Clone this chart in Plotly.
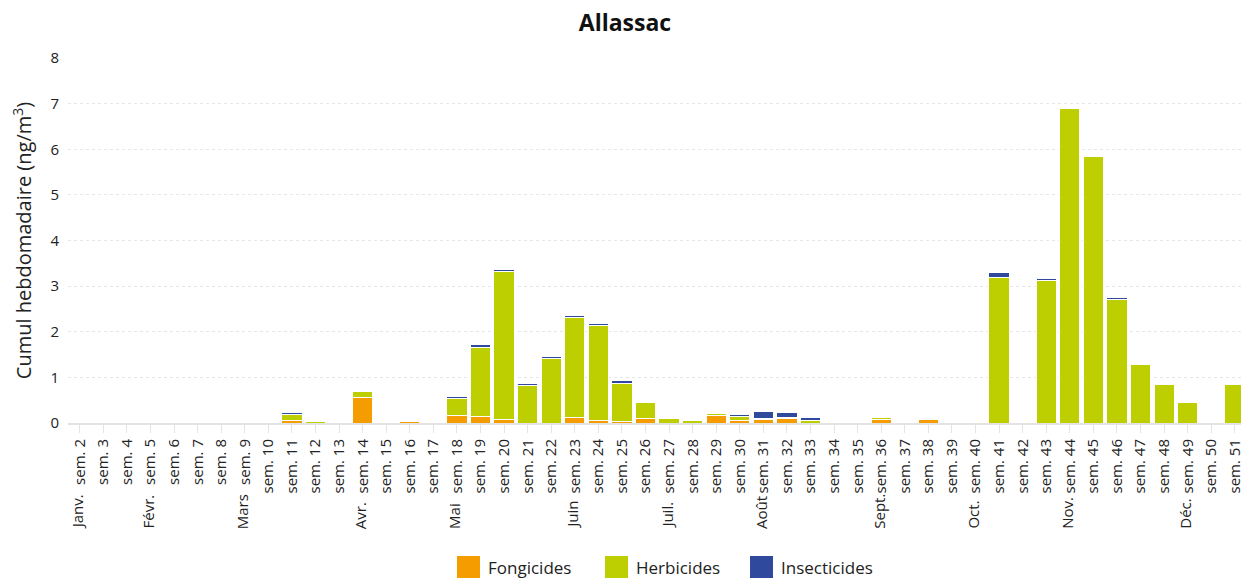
import plotly.graph_objects as go

weeks = [f"sem. {i}" for i in range(2, 52)]

# values per week (sem. 2 .. sem. 51)
fongicides = {11: 0.06, 14: 0.56, 16: 0.03, 18: 0.17, 19: 0.15, 20: 0.08, 23: 0.12, 24: 0.06,
              25: 0.04, 26: 0.10, 29: 0.16, 30: 0.06, 31: 0.08, 32: 0.09, 36: 0.07, 38: 0.07}
herbicides = {11: 0.12, 12: 0.03, 14: 0.13, 18: 0.36, 19: 1.51, 20: 3.24, 21: 0.83, 22: 1.41,
              23: 2.19, 24: 2.08, 25: 0.83, 26: 0.34, 27: 0.10, 28: 0.06, 29: 0.04, 30: 0.09,
              31: 0.02, 32: 0.02, 33: 0.06, 36: 0.05, 38: 0.03, 41: 3.19, 43: 3.12, 44: 6.89,
              45: 5.84, 46: 2.71, 47: 1.28, 48: 0.85, 49: 0.45, 51: 0.84}
insecticides = {11: 0.04, 12: 0.03, 14: 0.03, 18: 0.05, 19: 0.05, 20: 0.05, 21: 0.04, 22: 0.04,
                23: 0.04, 24: 0.05, 25: 0.06, 26: 0.03, 27: 0.02, 28: 0.02, 29: 0.04, 30: 0.04,
                31: 0.15, 32: 0.13, 33: 0.05, 36: 0.03, 38: 0.02, 41: 0.10, 43: 0.04, 44: 0.03,
                45: 0.03, 46: 0.03, 47: 0.02, 48: 0.02, 49: 0.02, 51: 0.02}

month_labels = ["Janv.", "Févr.", "Mars", "Avr.", "Mai", "Juin", "Juil.", "Août",
                "Sept.", "Oct.", "Nov.", "Déc."]
month_weeks = ["sem. 2", "sem. 5", "sem. 9", "sem. 14", "sem. 18", "sem. 23", "sem. 27",
               "sem. 31", "sem. 36", "sem. 40", "sem. 44", "sem. 49"]

series_names = ["Fongicides", "Herbicides", "Insecticides"]

nums = list(range(2, 52))
def series(d):
    return [d.get(n, 0) for n in nums]

colors = {"Fongicides": "#f59c00", "Herbicides": "#bdcf00", "Insecticides": "#2f4a9c"}
FONT = "Open Sans"

OFF = 8  # default page body margin
W, H = 1249 - OFF, 579 - OFF
ML, MR, MT = 68 - OFF, 0, 58 - OFF
MB = H - (423 - OFF)
PW, PH = W - ML - MR, H - MT - MB

def px_x(p):  # page pixel -> paper x
    return (p - OFF - ML) / PW

def px_y(p):  # page pixel -> paper y
    return (H - MB - (p - OFF)) / PH

fig = go.Figure()
for name, d in zip(series_names, [fongicides, herbicides, insecticides]):
    fig.add_trace(go.Bar(x=weeks, y=series(d), name=name, showlegend=False,
                         marker=dict(color=colors[name], line=dict(color="white", width=1))))

for m, w in zip(month_labels, month_weeks):
    fig.add_annotation(x=w, xref="x", y=px_y(531), yref="paper", text=m, textangle=-90,
                       showarrow=False, xanchor="center", yanchor="bottom", xshift=-3,
                       font=dict(family=FONT, size=15, color="#222"))

# legend drawn as squares + labels (larger symbols than plotly's default legend)
legend_left = [457, 605, 750]
for name, left in zip(series_names, legend_left):
    fig.add_shape(type="rect", xref="paper", yref="paper",
                  x0=px_x(left), x1=px_x(left + 23), y0=px_y(578), y1=px_y(556),
                  fillcolor=colors[name], line=dict(width=0))
    fig.add_annotation(x=px_x(left + 29), y=px_y(567), xref="paper", yref="paper",
                       text=name, showarrow=False, xanchor="left", yanchor="middle",
                       font=dict(family=FONT, size=17, color="#222"))

fig.update_layout(
    barmode="stack", bargap=0.14,
    width=W, height=H,
    margin=dict(l=ML, r=MR, t=MT, b=MB),
    paper_bgcolor="white", plot_bgcolor="white",
    font=dict(family=FONT, color="#222"),
    title=dict(text="<b>Allassac</b>", x=(625 - OFF) / W, xanchor="center",
               y=1 - (23 - OFF) / H, yanchor="middle",
               font=dict(family=FONT, size=23, color="#111")),
    showlegend=False,
    xaxis=dict(type="category", categoryorder="array", categoryarray=weeks,
               tickangle=-90, tickfont=dict(family=FONT, size=15, color="#222"),
               ticks="outside", ticklen=8, tickcolor="#e3e3e3",
               showline=True, linecolor="#e3e3e3", linewidth=2,
               range=[-0.5, 49.6], automargin=False),
    yaxis=dict(range=[0, 8], dtick=1, showgrid=True, gridcolor="#e6e6e6", griddash="dot",
               zeroline=False, tickfont=dict(family=FONT, size=15, color="#222"),
               ticklabelstandoff=8, automargin=False,
               title=dict(text="Cumul hebdomadaire (ng/m<sup>3</sup>)",
                          font=dict(family=FONT, size=20, color="#222"), standoff=14)),
)

fig.write_html("out.html")
